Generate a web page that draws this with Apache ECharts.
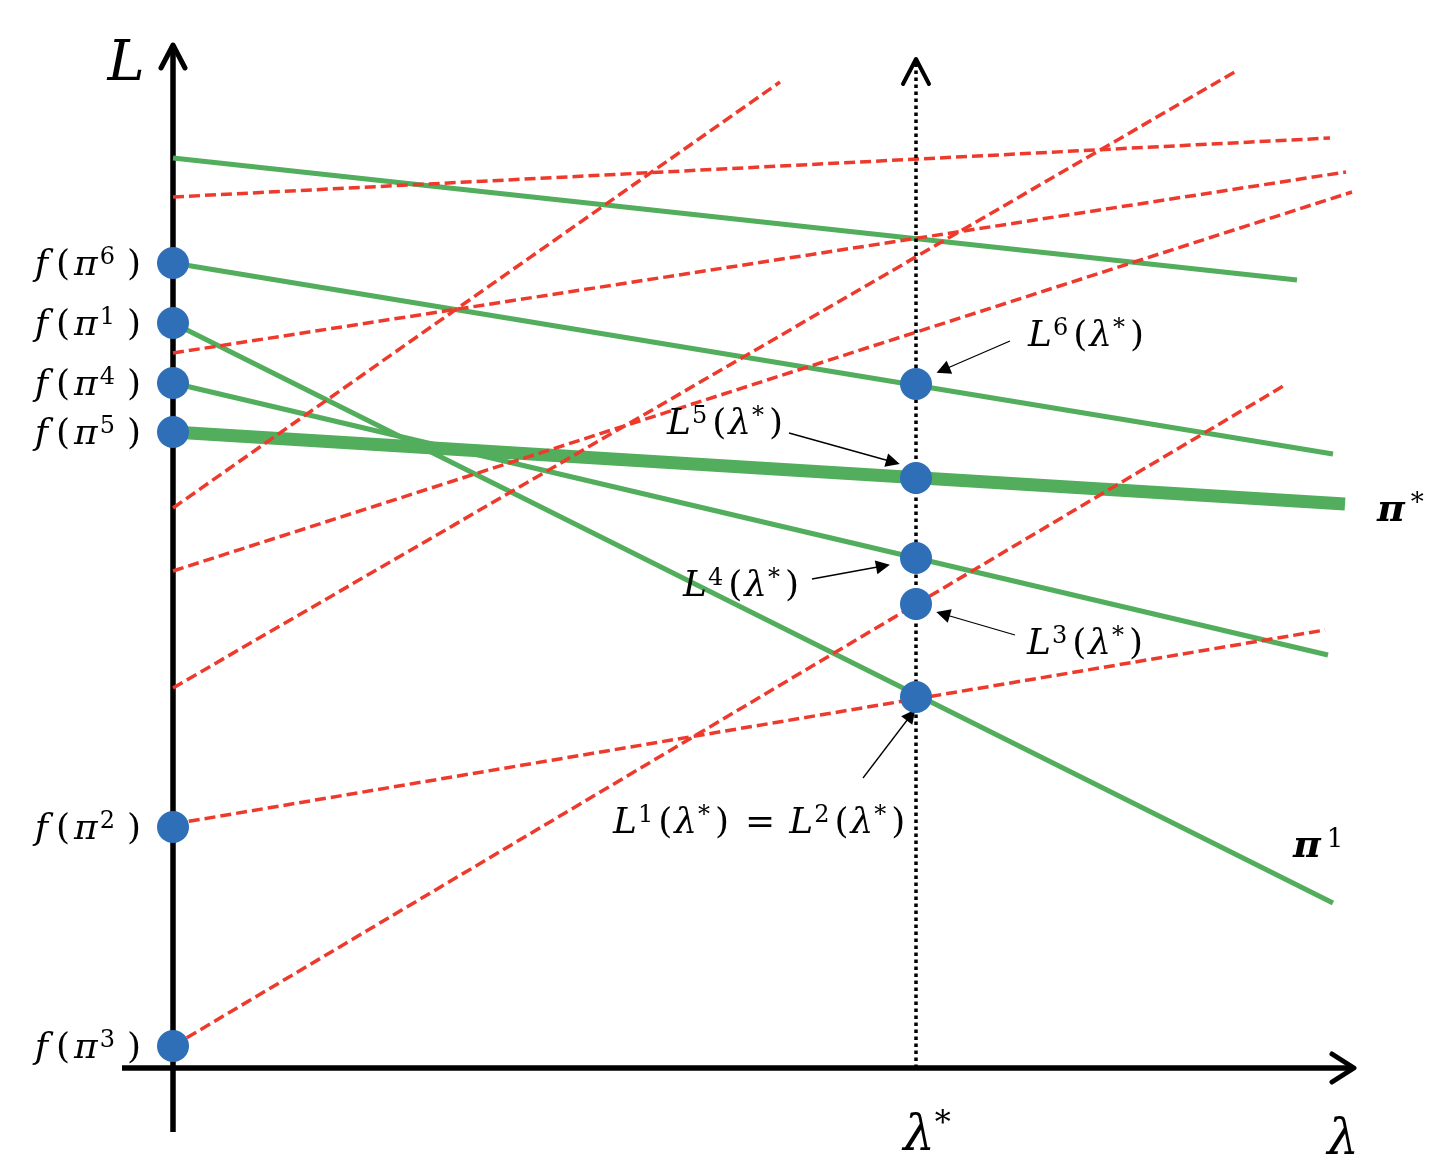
<!DOCTYPE html>
<html><head><meta charset="utf-8">
<script src="https://cdn.jsdelivr.net/npm/echarts@6/dist/echarts.min.js"></script>
<style>html,body{margin:0;padding:0;background:#fff}#c{width:1444px;height:1174px}</style>
</head><body><div id="c"></div>
<script>
// ---------- data (λ, L units; origin at the axes crossing) ----------
const lambdaStar = 743;
const axisTopL = 1023;
const starLineTopL = 1009;
const greenStartL = [910, 805, 745, 685, 636];
const greenEndLambda = [1124, 1160, 1160, 1155, 1172];
const greenEndL = [788, 614, 165, 413, 564];
const redStartL = [871, 715, 560, 497, 380, 244, 22];
const redEndLambda = [1157, 1173, 607, 1179, 1065, 1152, 1112];
const redEndL = [930, 896, 986, 876, 998, 438, 683];
const interceptPolicies = ['6', '1', '4', '5', '2', '3'];
const interceptL = [805, 745, 685, 636, 241, 22];
const starDotL = [684, 590, 510, 464, 371];
const annotationTexts = [
  '{i|L}{s|6}{p|(}{i|λ}{s|*}{p|)}',
  '{i|L}{s|5}{p|(}{i|λ}{s|*}{p|)}',
  '{i|L}{s|4}{p|(}{i|λ}{s|*}{p|)}',
  '{i|L}{s|3}{p|(}{i|λ}{s|*}{p|)}',
  '{i|L}{s|1}{p|(}{i|λ}{s|*}{p|)}{eq|=}{i|L}{s|2}{p|(}{i|λ}{s|*}{p|)}',
  '{b|π}{bs|*}',
  '{b|π}{bs|1}'
];
const annotationLambda = [855, 494, 510, 854, 440, 1204, 1120];
const annotationL = [731, 643, 481, 423, 244, 557, 221];
const arrowFrom = [[837, 727], [616, 635], [639, 489], [842, 433], [690, 290]];
const arrowTo = [[770, 698], [720, 606], [710, 502], [770, 454], [738, 353]];
const axisTitles = ['{a|L}', '{l|λ}{ls|*}', '{l|λ}'];
const axisTitleLambda = [-47, 754, 1170];
const axisTitleL = [1003, -69, -73];

// ---------- styles ----------
const GREEN = '#52AD5C', RED = '#EE3A2C', BLUE = '#2E6FB8';
const greenWidths = [5, 5, 5, 5, 13];
const FONT = 'DejaVu Serif';
const rich = {
  i: {fontFamily: FONT, fontStyle: 'italic', fontSize: 36, lineHeight: 40, color: '#000'},
  fi: {fontFamily: FONT, fontStyle: 'italic', fontSize: 36, lineHeight: 40, color: '#000', padding: [0, 8, 0, 0]},
  fp: {fontFamily: FONT, fontSize: 36, lineHeight: 40, color: '#000', padding: [0, 4, 0, 0]},
  fs: {fontFamily: FONT, fontSize: 24, lineHeight: 16, verticalAlign: 'top', color: '#000', padding: [0, 10, 0, 2]},
  b: {fontFamily: FONT, fontStyle: 'italic', fontWeight: 'bold', fontSize: 38, lineHeight: 40, color: '#000'},
  bs: {fontFamily: FONT, fontSize: 26, lineHeight: 12, verticalAlign: 'top', color: '#000', padding: [0, 0, 0, 6]},
  p: {fontFamily: FONT, fontSize: 36, lineHeight: 40, color: '#000', padding: [0, 2, 0, 2]},
  eq: {fontFamily: FONT, fontSize: 36, lineHeight: 40, color: '#000', padding: [0, 14, 0, 14]},
  s: {fontFamily: FONT, fontSize: 24, lineHeight: 16, verticalAlign: 'top', color: '#000', padding: [0, 3, 0, 1]},
  a: {fontFamily: FONT, fontStyle: 'italic', fontSize: 56, lineHeight: 60, color: '#000'},
  l: {fontFamily: FONT, fontStyle: 'italic', fontSize: 50, lineHeight: 56, color: '#000'},
  ls: {fontFamily: FONT, fontSize: 32, lineHeight: 22, verticalAlign: 'top', color: '#000'}
};

const series = [];
function seg(data, color, width, type, z, cap) {
  series.push({type: 'line', data: data, symbol: 'none', silent: true, animation: false, z: z,
    lineStyle: {color: color, width: width, type: type || 'solid', cap: cap || 'butt', join: 'round'}});
}
function textSeries(data) {
  series.push({type: 'scatter', symbolSize: 0, z: 7, silent: true, animation: false,
    itemStyle: {opacity: 1}, data: data});
}
// axes
seg([[0, -64], [0, axisTopL]], '#000', 5.5, 'solid', 1);
seg([[-12, axisTopL - 23], [0, axisTopL], [12, axisTopL - 23]], '#000', 5, 'solid', 1, 'round');
seg([[-51, 0], [1181, 0]], '#000', 5.5, 'solid', 1);
seg([[1159, 14], [1181, 0], [1159, -14]], '#000', 5, 'solid', 1, 'round');
// green lines
greenStartL.forEach((l0, k) => seg([[0, l0], [greenEndLambda[k], greenEndL[k]]], GREEN, greenWidths[k], 'solid', 2));
// red dashed lines
redStartL.forEach((l0, k) => seg([[0, l0], [redEndLambda[k], redEndL[k]]], RED, 3.5, [11, 5], 3));
// dotted λ* line with arrow head
seg([[lambdaStar, 0], [lambdaStar, starLineTopL]], '#000', 3.5, [3.5, 3.5], 4);
seg([[lambdaStar - 13, starLineTopL - 25], [lambdaStar, starLineTopL], [lambdaStar + 13, starLineTopL - 25]], '#000', 4, 'solid', 4, 'round');
// dots
series.push({type: 'scatter', symbol: 'circle', symbolSize: 32, z: 6, silent: true, animation: false,
  itemStyle: {color: BLUE, opacity: 1},
  data: interceptL.map(l => [0, l]).concat(starDotL.map(l => [lambdaStar, l]))});
// annotation arrows
series.push({type: 'lines', coordinateSystem: 'cartesian2d', z: 5, silent: true, animation: false,
  symbol: ['none', 'triangle'], symbolSize: [12, 14],
  lineStyle: {color: '#000', width: 1.3, opacity: 1},
  data: arrowFrom.map((f, k) => ({coords: [f, arrowTo[k]]}))});
// intercept labels
textSeries(interceptL.map((l, k) => ({value: [-30, l - 3],
  label: {show: true, color: '#000', opacity: 1, position: [0, 0], align: 'right', verticalAlign: 'middle', rich: rich,
    formatter: '{fi|f}{fp|(}{i|π}{fs|' + interceptPolicies[k] + '}{p|)}'}})));
// annotation labels
textSeries(annotationTexts.map((t, k) => ({value: [annotationLambda[k], annotationL[k]],
  label: {show: true, color: '#000', opacity: 1, position: [0, 0], align: 'left', verticalAlign: 'middle', rich: rich, formatter: t}})));
// axis titles
textSeries(axisTitles.map((t, k) => ({value: [axisTitleLambda[k], axisTitleL[k]],
  label: {show: true, color: '#000', opacity: 1, position: [0, 0], align: 'center', verticalAlign: 'middle', rich: rich, formatter: t}})));

const chart = echarts.init(document.getElementById('c'), null, {renderer: 'canvas'});
chart.setOption({
  backgroundColor: '#fff',
  animation: false,
  grid: {left: 0, right: 0, top: 0, bottom: 0},
  xAxis: {type: 'value', min: -173, max: 1271, show: false},
  yAxis: {type: 'value', min: -106, max: 1068, show: false},
  series: series
});
</script></body></html>
